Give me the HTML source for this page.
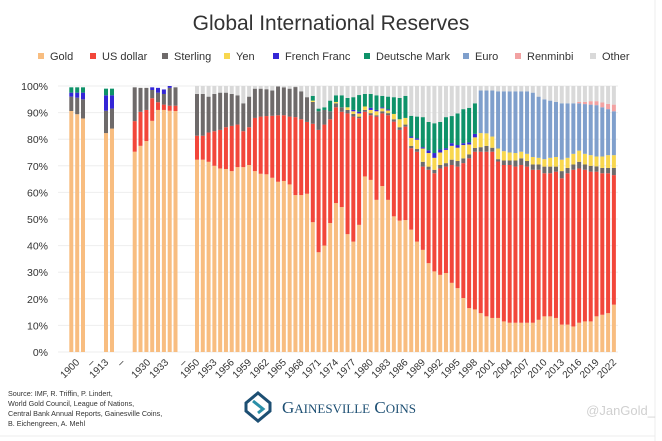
<!DOCTYPE html>
<html><head><meta charset="utf-8">
<style>
body{margin:0;background:#fff;width:662px;height:441px;overflow:hidden;font-family:"Liberation Sans",sans-serif;}
svg{display:block}
</style></head>
<body>
<svg id="s" width="662" height="441" xmlns="http://www.w3.org/2000/svg" font-family="Liberation Sans, sans-serif">
<rect x="0" y="0" width="662" height="441" fill="#fff"/>
<line x1="655" y1="0" x2="655" y2="441" stroke="#ececec" stroke-width="1"/>
<line x1="0" y1="436" x2="655" y2="436" stroke="#ececec" stroke-width="1"/>
<text x="331" y="30" text-anchor="middle" font-size="21" fill="#333">Global International Reserves</text>
<g font-size="11" fill="#333">
<rect x="38" y="53" width="6" height="6" fill="#F8BD80"/><text x="50" y="60">Gold</text>
<rect x="90" y="53" width="6" height="6" fill="#F2463A"/><text x="102" y="60">US dollar</text>
<rect x="162" y="53" width="6" height="6" fill="#6E6A6A"/><text x="174" y="60">Sterling</text>
<rect x="224" y="53" width="6" height="6" fill="#F8D74E"/><text x="236" y="60">Yen</text>
<rect x="273" y="53" width="6" height="6" fill="#3426D6"/><text x="285" y="60">French Franc</text>
<rect x="364" y="53" width="6" height="6" fill="#0E9269"/><text x="376" y="60">Deutsche Mark</text>
<rect x="463" y="53" width="6" height="6" fill="#7F9FCC"/><text x="475" y="60">Euro</text>
<rect x="515" y="53" width="6" height="6" fill="#F2A2A2"/><text x="527" y="60">Renminbi</text>
<rect x="590" y="53" width="6" height="6" fill="#D9D9D9"/><text x="602" y="60">Other</text>
</g>
<g id="grid"></g>
<g font-size="10.5" fill="#333" text-anchor="end">
<text x="48" y="356">0%</text><text x="48" y="329.5">10%</text><text x="48" y="303">20%</text>
<text x="48" y="276">30%</text><text x="48" y="249.5">40%</text><text x="48" y="223">50%</text>
<text x="48" y="196.5">60%</text><text x="48" y="170">70%</text><text x="48" y="143">80%</text>
<text x="48" y="116.5">90%</text><text x="48" y="90">100%</text>
</g>
<g id="bars"></g>
<g id="lbl" font-size="10" fill="#333" text-anchor="end"></g>
<g font-size="7.2" fill="#333">
<text x="8" y="396">Source: IMF, R. Triffin, P. Lindert,</text>
<text x="8" y="406">World Gold Council, League of Nations,</text>
<text x="8" y="416">Central Bank Annual Reports, Gainesville Coins,</text>
<text x="8" y="426">B. Eichengreen, A. Mehl</text>
</g>
<g transform="translate(258,407)">
<path d="M0,-14 L12,-4 L12,4 L0,14 L-12,4 L-12,-4 Z" fill="none" stroke="#1d4f73" stroke-width="3"/>
<path d="M-5,-6 L5,2 L0,6" fill="none" stroke="#2a8fa8" stroke-width="3"/>
</g>
<text x="282" y="413" font-family="Liberation Serif, serif" font-size="17" fill="#1d4f73">G<tspan font-size="13">AINESVILLE</tspan> C<tspan font-size="13">OINS</tspan></text>
<text x="655" y="415" text-anchor="end" font-size="13" fill="#d0d0d0">@JanGold_</text>
</svg>
<script>
var C=["#F8BD80","#F2463A","#6E6A6A","#F8D74E","#3426D6","#0E9269","#7F9FCC","#F2A2A2","#D9D9D9"];
// cumulative tops: gold, usd, stg, yen, ff, dm, euro, rmb, other
function Y(p){return 352-p*2.66;}
var g=document.getElementById('grid'),s='';
for(var i=0;i<=10;i++){s+='<line x1="58" x2="618" y1="'+Y(i*10)+'" y2="'+Y(i*10)+'" stroke="#eeeeee" stroke-width="1"/>';}
g.innerHTML=s;
// each: [gold,usd,stg,yen,ff,dm,euro,rmb,other] cumulative
var early=[
[69.3,[90.6,90.6,96,96,97.5,99.5,99.5,99.5,99.5]],
[75.2,[89.4,89.4,95.6,95.6,97.5,99.5,99.5,99.5,99.5]],
[81,[87.8,87.8,95,95,97.5,99.5,99.5,99.5,99.5]],
[104,[82.3,82.3,90.7,90.7,96.5,99,99,99,99]],
[110,[84,84,91.5,91.5,96.5,99,99,99,99]],
[132.7,[75.3,86.8,99.5,99.5,99.5,99.5,99.5,99.5,99.5]],
[138.5,[77.5,90.3,99.3,99.3,99.3,99.3,99.3,99.3,99.3]],
[144.4,[79.3,91,99.3,99.3,99.3,99.3,99.3,99.3,99.3]],
[150.2,[86.9,95.4,98.5,98.5,99.5,99.5,99.5,99.5,99.5]],
[156,[91,93.9,97.5,97.5,99.3,99.3,99.3,99.3,99.3]],
[161.9,[91,93,97,97,98.7,98.7,98.7,98.7,98.7]],
[167.7,[90.7,92.6,99.3,99.3,100,100,100,100,100]],
[173.5,[90.6,92.6,99.5,99.5,99.5,99.5,99.5,99.5,99.5]]];
// 1950+ : gold, usd, stg, yen, ff, dm, euro, rmb
var L=[
[72.3,81.3,97],[72.3,81.3,97],[71.5,82.5,96],[70,83,97],[69,83.5,97.5],[68.8,84.5,97.5],[68,85,97],[69.5,85.5,96.5],[69.5,83,93.5],[70.3,84.5,96],
[68,88,99],[67,88.5,99],[66.8,88.7,98.8],[65.5,88.8,98.3],[64,89,99.8],[64.3,89,99.5],[63,88.5,99],[59,88.3,99.6],[59,87.5,98],[59.5,86.5,95.8],
[48.8,85.8,94,94.5,94.5,96.3],[37.5,83.5,90.5,90.5,90.5,91.5],[40,85.5,91,91,91,92],[48.5,87.5,90.5,90.5,90.5,94.5],
[56,92,93.5,94,94,96.5],[54.5,90.3,92,92,92,96.5],[44.3,89.7,91,92,92,95.5],[41.5,88.5,89.5,90.5,91,95.8],[47.8,87.9,88.5,89.7,90.3,96.6],
[66,90.3,91,92.3,92.3,97],[64.7,89,89.8,91,91.8,97],[57.2,88.5,89,90.5,91,96.5],[62.4,89.7,90.5,91.6,92,96.3],[57.2,89,89.8,90.8,91.2,96],
[51,86.6,87.5,89.5,89.5,95.8],[49.4,83.5,84.5,87.5,87.5,95.5],[49.6,84.7,85.5,88,88,96.3],[46,76.6,77.5,80.5,81,88.8],[41.5,75.3,76.3,79.8,80.3,88.5],
[38.4,69.7,71.5,76.5,77,88.3],[33.4,68.5,69.7,74.8,75.8,86.5],[30.3,67.2,68.5,73,74.8,86],[29,69,70.3,75,76.1,86.5],[29.7,69.7,71,76,76.6,88.3],
[26,70.3,72.3,77.5,78.5,88.7],[24,69.7,71.8,76.8,77.8,89.7],[20.3,71,72.8,77.8,78.5,91.3],[16.5,72.8,74.3,78,78.8,91.8],[16,75.3,76.7,80.7,82,93.5],
[14.6,75.3,77,82.3,82.3,82.3,98.3],[13.4,75.3,77.5,82.2,82.2,82.2,98.3],[12.8,75.3,76.8,81,81,81,98.3],[12.8,71.6,72.5,76.5,76.5,76.5,98],[11.5,70.3,72,75.5,75.5,75.5,98],
[11,70.3,72,75,75,75,98],[11,69.7,72,74.8,74.8,74.8,98],[11,70.3,72.8,75.3,75.3,75.3,98],[11,69.7,71.8,74.5,74.5,74.5,98],[11,68.5,70.5,73.3,73.3,73.3,97.5],
[12.1,68.5,70.5,73,73,73,96],[13.4,67.2,69.7,72.5,72.5,72.5,95],[13.4,67.2,69.7,73,73,73,94.5],[12.8,67.8,69.7,73.3,73.3,73.3,94],[10.3,65.3,68,72.3,72.3,72.3,93.5],
[10.3,67.2,69.2,73,73,73,93.5],[9.6,68.5,70.5,74.5,74.5,74.5,93.5],[11,69,71.5,75.7,75.7,75.7,93.5,94],[11.5,68.5,70.5,74.5,74.5,74.5,93.2,94],[11.5,67.8,70,74,74,74,93,94.3],
[13.4,67.8,69.8,73.5,73.5,73.5,92.8,94.3],[14,67.2,69.2,73.5,73.5,73.5,92,93.8],[14.6,67.2,69.2,74,74,74,91.3,93.3],[17.8,66.5,69.2,74,74,74,90.5,93]];
var b='';
function bar(x,c){var prev=0;for(var k=0;k<c.length;k++){var t=c[k];if(t>prev){b+='<rect x="'+x+'" y="'+Y(t).toFixed(2)+'" width="4" height="'+((t-prev)*2.66).toFixed(2)+'" fill="'+C[k]+'"/>';prev=t;}}}
early.forEach(function(e){bar(e[0],e[1]);});
L.forEach(function(r,i){var c=r.slice();while(c.length<8)c.push(c[c.length-1]);c.push(100);bar(195+i*5.79,c);});
document.getElementById('bars').innerHTML=b;
</script>
<script>
var lb=[[77,"1900"],[92,"–"],[106,"1913"],[122,"–"],[148,"1930"],[166,"1933"],[184,"–"]];
for(var i=0;i<73;i+=3){lb.push([197+i*5.79,String(1950+i)]);}
var h='';lb.forEach(function(l){var x=l[0]+3,y=363;h+='<text transform="translate('+x+','+y+') rotate(-45)">'+l[1]+'</text>';});
document.getElementById('lbl').innerHTML=h;
</script>
</body></html>
